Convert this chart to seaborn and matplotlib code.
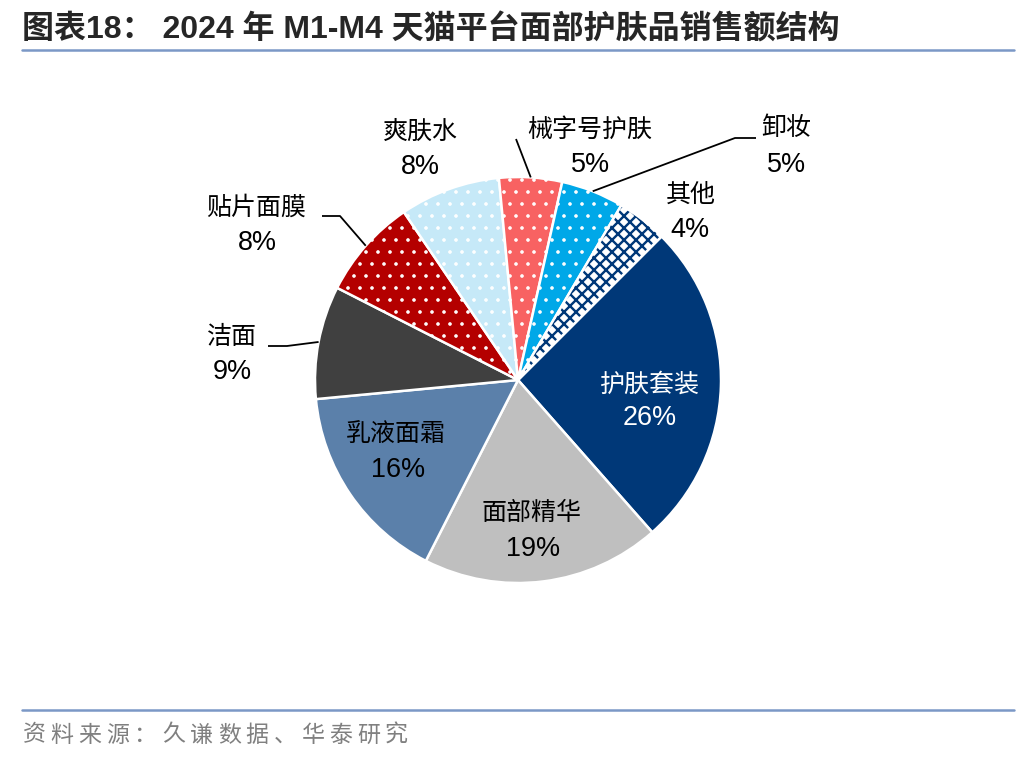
import matplotlib
matplotlib.use("Agg")
import matplotlib.pyplot as plt
import seaborn as sns
import numpy as np
from matplotlib.patches import Wedge
from matplotlib.lines import Line2D

# ---------------- data ----------------
categories = ["护肤套装", "面部精华", "乳液面霜", "洁面", "贴片面膜",
              "爽肤水", "械字号护肤", "卸妆", "其他"]
shares = [26, 19, 16, 9, 8, 8, 5, 5, 4]
title_text = "图表18： 2024 年 M1-M4 天猫平台面部护肤品销售额结构"
source_text = "资料来源：久谦数据、华泰研究"

# ---------------- styles ----------------
colors = ["#003878", "#bfbfbf", "#5b80aa", "#404040", "#b40000",
          "#c6e9f8", "#f86262", "#00a8e8", "#ffffff"]
hatches = [None, None, None, None, ".", ".", ".", ".", "xx"]
label_colors = ["white"] + ["black"] * 8
# label block positions (pixel coords: name line, percent line)
label_pos = [(649, 385, 650, 418), (532, 513, 533, 549), (396, 435, 398, 470),
             (232, 337, 232, 372), (256, 208, 257, 243), (420, 132, 420, 167),
             (590, 130, 591, 165), (786, 128, 787, 165), (691, 195, 690, 230)]
# leader line start points (pixel coords), ends at wedge outer mid
leaders = {3: [(268, 346), (287, 346)],
           4: [(322, 216), (340, 216)],
           6: [(516, 139)],
           7: [(756, 138), (735, 138)]}

W, H, DPI = 1036, 760, 72
CX, CY, R = 518, 380, 203

sns.set_theme(style="white")
plt.rcParams["font.family"] = ["Noto Sans CJK SC", "DejaVu Sans"]
plt.rcParams["hatch.linewidth"] = 1.2

fig = plt.figure(figsize=(W / DPI, H / DPI), dpi=DPI)
ax = fig.add_axes([0, 0, 1, 1])


def Y(y):
    return H - y


wedges, _ = ax.pie(shares, colors=colors, startangle=45, counterclock=False,
                   radius=R, center=(CX, Y(CY)),
                   wedgeprops=dict(edgecolor="white", linewidth=2.5))
for w, h in zip(wedges, hatches):
    if h and "x" in h:
        w.set_facecolor("white")
        w.set_edgecolor("#003878")
        w.set_linewidth(0)
        w.set_hatch(h)
        if hasattr(w, "set_hatch_linewidth"):
            w.set_hatch_linewidth(2.4)
        else:
            w._hatch_linewidth = 2.4
        ax.add_patch(Wedge(w.center, w.r, w.theta1, w.theta2, fill=False,
                           edgecolor="white", linewidth=2.5, zorder=w.get_zorder() + 0.1))
    elif h:
        w.set_hatch(h)

ax.set_xlim(0, W)
ax.set_ylim(0, H)
ax.set_aspect("equal")
ax.axis("off")

# labels
for i, (nx, ny, px, py) in enumerate(label_pos):
    ax.text(nx, Y(ny), categories[i], ha="center", va="center", fontsize=25,
            color=label_colors[i], family=["Noto Sans CJK SC"])
    ax.text(px, Y(py), f"{shares[i]}%", ha="center", va="center", fontsize=27,
            color=label_colors[i], family=["Liberation Sans"])

# leader lines
for i, pts in leaders.items():
    w = wedges[i]
    mid = np.deg2rad((w.theta1 + w.theta2) / 2)
    ex, ey = w.center[0] + w.r * np.cos(mid), w.center[1] + w.r * np.sin(mid)
    xs = [p[0] for p in pts] + [ex]
    ys = [Y(p[1]) for p in pts] + [ey]
    ax.plot(xs, ys, color="black", linewidth=1.8, solid_capstyle="butt")

# title and rules
fig.text(22 / W, 1 - 30 / H, title_text, fontsize=32, fontweight="bold",
         va="center", ha="left", family=["Liberation Sans", "Noto Sans CJK SC"])
for yy in (50, 710):
    fig.add_artist(Line2D([22 / W, 1014 / W], [1 - yy / H, 1 - yy / H],
                          color="#7b98c6", linewidth=2.5))
# source line, characters spaced evenly
for k, ch in enumerate(source_text):
    fig.text((22 + 12 + k * 27.9) / W, 1 - 735 / H, ch, fontsize=23, color="#808080",
             va="center", ha="center", family=["Noto Sans CJK SC"])

fig.savefig("out.png", dpi=DPI, facecolor="white")
